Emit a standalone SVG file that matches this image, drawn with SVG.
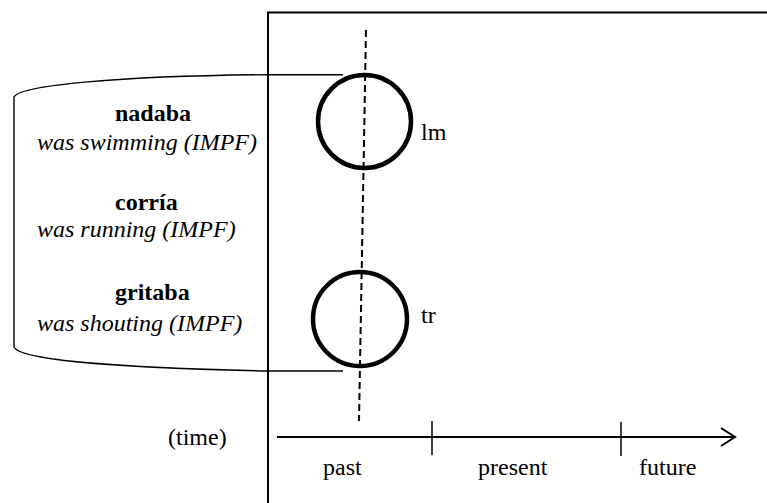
<svg xmlns="http://www.w3.org/2000/svg" width="767" height="503" viewBox="0 0 767 503">
<style>
text{font-family:'Liberation Serif','DejaVu Serif',serif;font-size:24px;fill:#000}
.b{font-weight:bold}
.i{font-style:italic}
.ln{fill:none;stroke:#000}
</style>
<rect width="767" height="503" fill="#fff"/>
<g id="frame"><path class="ln" d="M767,12.5 H268 V503" stroke-width="2"/></g>
<g id="bracket"><path class="ln" stroke-width="1.4" d="M343,74.7 H268 C120,76 20,85 14,97 V347 C20,360 120,368 268,371 H343"/></g>
<g id="labels-left">
<text class="b" x="115" y="121" font-family="Liberation Serif, serif">nadaba</text>
<text class="i" x="37" y="150">was swimming (IMPF)</text>
<text class="b" x="115" y="210">corría</text>
<text class="i" x="37" y="237">was running (IMPF)</text>
<text class="b" x="115" y="300">gritaba</text>
<text class="i" x="37" y="331">was shouting (IMPF)</text>
</g>
<g id="lm"><circle class="ln" cx="364.5" cy="121.5" r="46.5" stroke-width="4.5"/><text x="421" y="140">lm</text></g>
<g id="tr"><circle class="ln" cx="360" cy="319" r="47" stroke-width="4.5"/><text x="421" y="323">tr</text></g>
<g id="connectors">
<line class="ln" x1="366" y1="30" x2="359" y2="421" stroke-width="2" stroke-dasharray="7,4"/>
<line class="ln" x1="277" y1="437" x2="735" y2="437" stroke-width="2"/>
<polyline class="ln" points="721,428 735,437 721,446" stroke-width="2"/>
<line class="ln" x1="432" y1="421" x2="432" y2="455" stroke-width="1.5"/>
<line class="ln" x1="621" y1="422" x2="621" y2="456" stroke-width="1.5"/>
</g>
<g id="axis-labels">
<text x="168" y="445">(time)</text>
<text x="323" y="475">past</text>
<text x="478" y="475">present</text>
<text x="639" y="475">future</text>
</g>
</svg>
